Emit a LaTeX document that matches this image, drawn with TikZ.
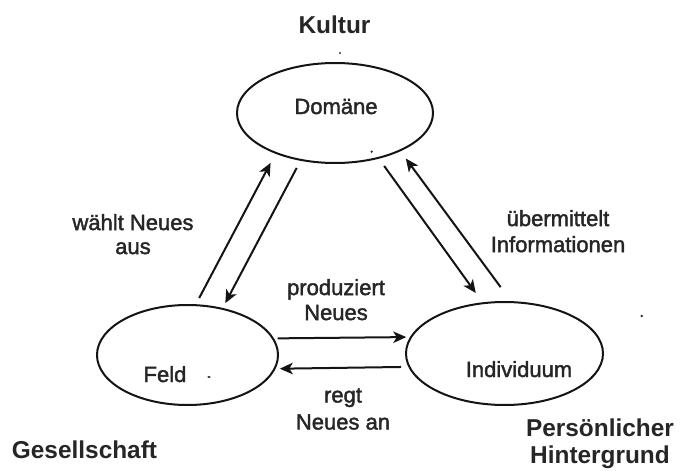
\documentclass[tikz,border=0pt]{standalone}
\usepackage{fontspec}
\setmainfont{Liberation Sans}
% slightly heavier face for the inner texts
\newfontfamily\inletters[FakeBold=1.8]{Liberation Sans}
\usetikzlibrary{shapes.geometric,arrows.meta}
\begin{document}
\begin{tikzpicture}[x=1pt,y=-1pt,
  circle3/.style={draw=black!92,line width=2pt,ellipse,inner sep=0pt,outer sep=0pt},
  inlabel/.style={inner sep=0pt,align=center,text=black!85,font={\inletters\fontsize{22}{25}\selectfont}},
  outlabel/.style={inner sep=0pt,align=center,text=black!85,font={\fontsize{24.4}{27}\selectfont\bfseries}},
  flow/.style={draw=black!92,line width=2pt,-{Stealth[length=13pt,width=11.5pt,inset=3.5pt]}},
  speck/.style={fill=black!80,draw=none}]
  \path[use as bounding box] (0,0) rectangle (681,471);

  % the three ellipses
  \node[circle3,minimum width=196pt,minimum height=100pt] (dom)  at (335,113)   {};
  \node[circle3,minimum width=181pt,minimum height=100pt] (feld) at (187.5,355) {};
  \node[circle3,minimum width=197pt,minimum height=103pt] (ind)  at (504.5,353.5) {};

  % texts inside the ellipses
  \node[inlabel,anchor=base] (tdom)  at (336,114) {Domäne};
  \node[inlabel,anchor=base] (tfeld) at (165,382) {Feld};
  \node[inlabel,anchor=base] (tind)  at (519,377) {Individuum};

  % outer headings
  \node[outlabel,anchor=base] (kultur) at (334.5,33) {Kultur};
  \node[outlabel,anchor=base] (ges)    at (84.5,458) {Gesellschaft};
  \node[outlabel] (hint) at (600,443.3) {Persönlicher\\Hintergrund};

  % arrow labels
  \node[inlabel,font={\inletters\fontsize{22}{24}\selectfont}] (lwaehlt) at (133,234.2) {wählt Neues\\aus};
  \node[inlabel,font={\inletters\fontsize{22}{26}\selectfont}] (luebm)   at (558,231.2) {übermittelt\\Informationen};
  \node[inlabel,font={\inletters\fontsize{22}{25}\selectfont}] (lprod)   at (336,299.7) {produziert\\Neues};
  \node[inlabel,font={\inletters\fontsize{22}{27}\selectfont}] (lregt)   at (343,409)   {regt\\Neues an};

  % arrows between the ellipses
  \draw[flow,shorten <=8.1pt,shorten >=11.3pt] (feld.81.2)  -- (dom.214.3);
  \draw[flow,shorten <=9.1pt,shorten >=6.5pt]  (dom.234.3)  -- (feld.53.4);
  \draw[flow,shorten <=10pt,shorten >=12.6pt]  (dom.314.6)  -- (ind.113.9);
  \draw[flow,shorten <=18.6pt,shorten >=10pt]  (ind.82.9)   -- (dom.330.9);
  \draw[flow,shorten <=4.7pt,shorten >=4.9pt]  (feld.11.66) -- (ind.170.3);
  \draw[flow,shorten <=8.2pt,shorten >=5.3pt]  (ind.188.9)  -- (feld.351.3);

  % small specks
  \fill[speck] (340,53) circle (1.2pt);
  \fill[speck] (371.7,151.7) circle (1.3pt);
  \fill[speck] (641.7,316) circle (1.4pt);
  \fill[speck] (209,377) ellipse (1.8pt and 1.1pt);
\end{tikzpicture}
\end{document}
